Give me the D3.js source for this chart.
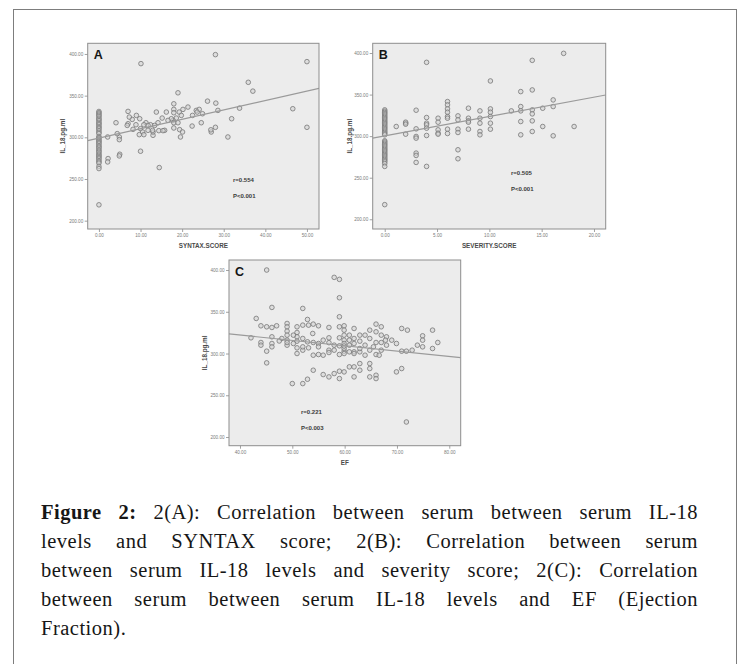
<!DOCTYPE html>
<html><head><meta charset="utf-8">
<script src="https://cdn.jsdelivr.net/npm/d3@7"></script>
<style>
body{margin:0;background:#fff;width:742px;height:664px;overflow:hidden;position:relative;font-family:"Liberation Sans",Arial,sans-serif}
#frame{position:absolute;left:13px;top:9px;width:724px;height:680px;border:1.5px solid #7d7d7d;box-sizing:border-box}
#chart{position:absolute;left:0;top:0}
#caption{position:absolute;left:41px;top:498px;width:657px;font-family:"Liberation Serif","Times New Roman",serif;font-size:20.5px;letter-spacing:0.5px;line-height:29px;color:#161616}
#caption .ln{text-align:justify;text-align-last:justify}
#caption .ln.last{text-align-last:left}
</style></head>
<body>
<div id="frame"></div>
<svg id="chart" width="742" height="664"></svg>
<div id="caption"></div>
<script>
// ---------------- DATA ----------------
const captionBold = "Figure 2:";
const captionLines = [
  " 2(A): Correlation between serum between serum IL-18",
  "levels and SYNTAX score; 2(B): Correlation between serum",
  "between serum IL-18 levels and severity score; 2(C): Correlation",
  "between serum between serum IL-18 levels and EF (Ejection",
  "Fraction)."
];

const yTicksIL = [200, 250, 300, 350, 400];
const xTicksA = [0, 10, 20, 30, 40, 50];
const xTicksB = [0, 5, 10, 15, 20];
const xTicksC = [40, 50, 60, 70, 80];

const panelTitles = ["A", "B", "C"];
const xTitles = ["SYNTAX.SCORE", "SEVERITY.SCORE", "EF"];
const yTitle = "IL_18.pg.ml";
const rLabels = ["r=0.554", "r=0.505", "r=0.221"];
const pLabels = ["P<0.001", "P<0.001", "P<0.003"];

// fitted lines [intercept, slope]
const fitA = [299, 1.13];
const fitB = [300.3, 2.33];
const fitC = [347.7, -0.64];

// Panel A: SYNTAX score vs IL-18
const pointsA = [
 [0,331],[0,329.5],[0,328],[0,326.5],[0,325],[0,323],[0,321.5],[0,320],[0,318],[0,316.5],[0,315],[0,313],[0,311.5],[0,310],[0,308],[0,306],[0,304.5],
 [0,301],[0,299.5],[0,298],[0,296.5],[0,295],[0,293.5],[0,292],[0,290],[0,288.5],[0,287],[0,285],[0,283.5],[0,282],[0,280],[0,278.5],[0,277],[0,275.5],[0,274],[0,272],[0,270.5],[0,269],[0,265],[0,262.5],[0,219],
 [10.1,388.4],[28,399.2],[50,390.8],[35.9,366],[37,355.4],[19,353.4],[26.1,343.4],[18,340.2],[28.1,341],[46.6,334.3],[33.8,335],[31.9,322.3],[50,312],[31,300.4],
 [27,306.4],[26.9,309],[28,312],[22.4,313.5],[24.6,317.5],[28.6,332.3],[23.4,332.3],[24.1,333.5],[23.6,330.3],[24.9,328.3],[22.5,326.3],[21.4,336.3],[20.2,333.5],
 [19.3,330.3],[19.8,326.3],[18.6,323.1],[18,333.5],[17.8,320.3],[18,317.5],[18,311.2],[19,317.5],[19.4,309.2],[20.1,306.4],[19.6,300.4],[18,329.5],[16.2,330.3],
 [15.2,323.1],[15.8,308.4],[14.4,308],[13,302.4],[13,306.4],[11.8,308.4],[12.4,315.1],[11.3,317.5],[11.8,314.3],[10.8,315.1],[13.8,330.3],[9,326.3],[9.8,322.3],
 [8.9,315.1],[8,321.5],[7,316.3],[7.3,324.3],[7,331.1],[6.8,314.3],[8.2,309.6],[10,310.4],[10.5,306.4],[9.7,303.2],[10.8,303.2],[4.9,300.4],[4.9,297.2],[4.4,304.4],
 [4.1,317.5],[5,279.7],[4.9,277.7],[2.1,300.4],[2.2,274.5],[2.1,270.5],[10,283.3],[14.5,263.7],[17.4,322.3],[16.6,320.3],[14.2,317.5],[13.4,314.3],[15.4,308],[12.9,308.4]
];

// Panel B: severity score vs IL-18
const pointsB = [
 [0,331.6],[0,330],[0,328.5],[0,327],[0,325.5],[0,324],[0,322.5],[0,321],[0,319.5],[0,318],[0,316.5],[0,315],[0,313.5],[0,312],[0,310.5],[0,309],[0,307.5],[0,306],[0,304.5],[0,303],[0,301.6],
 [0,294.4],[0,293],[0,291.5],[0,290],[0,288.5],[0,287],[0,285.5],[0,284],[0,282.5],[0,281],[0,279.5],[0,278],[0,276.5],[0,275],[0,273.5],[0,272],[0,270.5],[0,269],[0,267],[0,263.6],[0,217.6],
 [1.1,311.6],[2,315.6],[2,316.8],[2,314.4],[2,302.4],
 [3,331.2],[3,308.8],[3,299.6],[3,297.6],[3,279.6],[3,276.8],[3,268.4],
 [4,388.8],[4,322.4],[4,315.6],[4,313.6],[4,309.6],[4,300.8],[4,263.6],
 [5.1,321.6],[5.1,316.8],[5.1,307.6],[5.1,303.6],[5.1,302.4],
 [6,341.6],[6,337.6],[6,332.8],[6,328.8],[6,323.6],[6,321.6],[6,308.4],[6,303.2],
 [7,324.4],[7,319.6],[7,308.4],[7,304.4],[7,283.6],[7,272.8],
 [8,333.6],[8,321.6],[8,318.4],[8,316.8],[8,308.4],
 [9.1,330.4],[9.1,321.6],[9.1,315.6],[9.1,305.6],[9.1,301.6],
 [10.1,366.4],[10.1,332.8],[10.1,328.8],[10.1,323.6],[10.1,315.6],[10.1,308.4],
 [12.1,330.4],
 [13,353.6],[13,335.6],[13,330.4],[13,317.6],[13,301.6],
 [14.1,391.2],[14.1,355.6],[14.1,331.6],[14.1,326.8],[14.1,318.4],[14.1,305.6],
 [15.1,333.6],[15.1,311.6],[16.1,343.6],[16.1,335.6],[16.1,300.4],[17.1,399.6],[18.1,311.6]
];

// Panel C: EF vs IL-18
const pointsC = [
 [45.1,400],[58,391.2],[59,388.8],[59,366.8],[46.1,355.2],[52,354],[59,344],[43.1,342],[52.9,340.8],
 [44,333.2],[45.1,332],[46.1,331.2],[47,333.2],[49,336],[49,332],[49,326.8],[49,322],[49,316],[49,310],
 [50.9,332],[50.9,325.2],[50.9,320],[52,334],[53.1,334],[54,335.2],[55,333.2],[57,331.2],[59,332],
 [59.9,333.2],[59.9,328],[59.9,322],[59.9,316],[59.9,312],[61.8,330],[66,335.2],[67,332],[70.9,330],
 [72,328],[76.8,328],[74.9,321.2],[74.9,316],[42.1,318.8],[44,313.2],[44,310],[45.1,302.8],[45.1,288.8],
 [46.1,320],[46.1,312],[46.1,308],[48,318],[49,313.2],[50.2,322],[50.9,314.8],[50.9,306.8],[52,318],
 [52,304],[52.9,314],[53.1,306.8],[53.9,324],[54,313.2],[54,298],[55,312],[55,298.8],[55.9,316],
 [57,318.8],[57,304],[58,310],[58,304],[59,318.8],[59,309.2],[59,298.8],[59.9,302.8],[60.9,322],
 [60.9,316],[60.9,310],[61.8,318],[61.8,312],[61.8,302],[62.9,322],[62.9,314.8],[62.9,302],[63.9,322],
 [63.9,310],[64.8,328],[64.8,318],[64.8,304],[66,326],[66,313.2],[66,298.8],[67,322],[67,313.2],[67,304],
 [68,320],[68,310],[69,316],[69.9,312],[70.9,302.8],[71.8,302.8],[72.9,304],[73.9,310],[74.9,308],
 [76.8,306],[77.8,313.2],[54,280],[55.9,274.8],[57,272],[58,276],[59,278.8],[59,270],[59.9,278],
 [60.9,284],[61.8,284],[61.8,272],[62.9,288],[62.9,280],[64.8,288],[64.8,282],[64.8,272],[66,274],
 [66,270],[69.9,278],[70.9,282],[50,264],[52,264],[52.9,269.2],[71.8,218],[66.6,298],[63.9,298],
 [61.8,300],[60.9,302],[59.9,300],[57,301.2],[55.9,298],[52,308],[50.2,312],[59.9,306],[59.9,309],
 [62.9,306],[57,313],[55,308],[47.5,315],[50.9,300],[65.5,308],[67.8,316]
];

// ---------------- DRAW ----------------
const svg = d3.select("#chart");
const fmt = d3.format(".2f");

const panels = [
  {pts: pointsA, fit: fitA, xTicks: xTicksA, xDom: [-2.7, 52.9], yDom: [190, 412.8],
   box: [87.7, 43.3, 319, 229], title: 0, labelAt: [233, 182], yTitleX: 63},
  {pts: pointsB, fit: fitB, xTicks: xTicksB, xDom: [-1.15, 21.12], yDom: [188.3, 411.7],
   box: [372.7, 43.3, 605.7, 229], title: 1, labelAt: [511, 174.5], yTitleX: 350},
  {pts: pointsC, fit: fitC, xTicks: xTicksC, xDom: [37.9, 82.18], yDom: [189.6, 412],
   box: [229, 260, 460.7, 445.7], title: 2, labelAt: [301, 414], yTitleX: 205}
];

panels.forEach((p, i) => {
  const [l, t, r, b] = p.box;
  const x = d3.scaleLinear().domain(p.xDom).range([l, r]);
  const y = d3.scaleLinear().domain(p.yDom).range([b, t]);
  const g = svg.append("g");
  const cid = "clip" + i;
  svg.append("clipPath").attr("id", cid).append("rect")
    .attr("x", l).attr("y", t).attr("width", r - l).attr("height", b - t);

  g.append("rect").attr("x", l).attr("y", t).attr("width", r - l).attr("height", b - t)
    .attr("fill", "#ececec");

  const ya = d3.axisLeft(y).tickValues(yTicksIL).tickFormat(fmt).tickSize(3).tickPadding(1.5);
  g.append("g").attr("transform", `translate(${l},0)`).call(ya).call(s => {
    s.select(".domain").remove();
    s.selectAll("line").attr("stroke", "#8a8a8a").attr("stroke-width", 0.8);
    s.selectAll("text").attr("font-size", 4.6).attr("fill", "#7a7a7a").attr("font-family", "Liberation Sans, Arial");
  });
  const xa = d3.axisBottom(x).tickValues(p.xTicks).tickFormat(fmt).tickSize(3).tickPadding(2);
  g.append("g").attr("transform", `translate(0,${b})`).call(xa).call(s => {
    s.select(".domain").remove();
    s.selectAll("line").attr("stroke", "#8a8a8a").attr("stroke-width", 0.8);
    s.selectAll("text").attr("font-size", 4.6).attr("fill", "#7a7a7a").attr("font-family", "Liberation Sans, Arial");
  });

  const inner = g.append("g").attr("clip-path", `url(#${cid})`);
  inner.selectAll("circle").data(p.pts).join("circle")
    .attr("cx", d => x(d[0])).attr("cy", d => y(d[1])).attr("r", 2.3)
    .attr("fill", "#d4d4d4").attr("fill-opacity", 0.6)
    .attr("stroke", "#767676").attr("stroke-width", 0.8);

  const line = d3.line().x(d => x(d)).y(d => y(p.fit[0] + p.fit[1] * d));
  inner.append("path").datum(p.xDom).attr("d", line)
    .attr("fill", "none").attr("stroke", "#9a9a9a").attr("stroke-width", 1.2);

  g.append("rect").attr("x", l).attr("y", t).attr("width", r - l).attr("height", b - t)
    .attr("fill", "none").attr("stroke", "#8e8e8e").attr("stroke-width", 1);

  g.append("text").attr("x", l + 6).attr("y", t + 16).text(panelTitles[p.title])
    .attr("font-size", 12.5).attr("font-weight", "bold").attr("fill", "#151515")
    .attr("font-family", "Liberation Sans, Arial");

  g.append("text").attr("x", p.labelAt[0]).attr("y", p.labelAt[1]).text(rLabels[i])
    .attr("font-size", 6).attr("font-weight", "bold").attr("fill", "#3a3a3a");
  g.append("text").attr("x", p.labelAt[0]).attr("y", p.labelAt[1] + 16).text(pLabels[i])
    .attr("font-size", 6).attr("font-weight", "bold").attr("fill", "#3a3a3a");

  g.append("text").attr("x", (l + r) / 2).attr("y", b + 19)
    .attr("text-anchor", "middle").text(xTitles[i])
    .attr("font-size", 6.3).attr("font-weight", "bold").attr("fill", "#4a4a4a");
  g.append("text").attr("transform", `translate(${p.yTitleX},${(t + b) / 2}) rotate(-90)`)
    .attr("text-anchor", "middle").attr("dy", "0.35em").text(yTitle)
    .attr("font-size", 6.3).attr("font-weight", "bold").attr("fill", "#4a4a4a");
});

// caption
const cap = d3.select("#caption");
captionLines.forEach((ln, i) => {
  const div = cap.append("div").attr("class", "ln" + (i === captionLines.length - 1 ? " last" : ""));
  if (i === 0) div.append("b").text(captionBold);
  div.append("span").text(ln);
});
</script>
</body></html>
